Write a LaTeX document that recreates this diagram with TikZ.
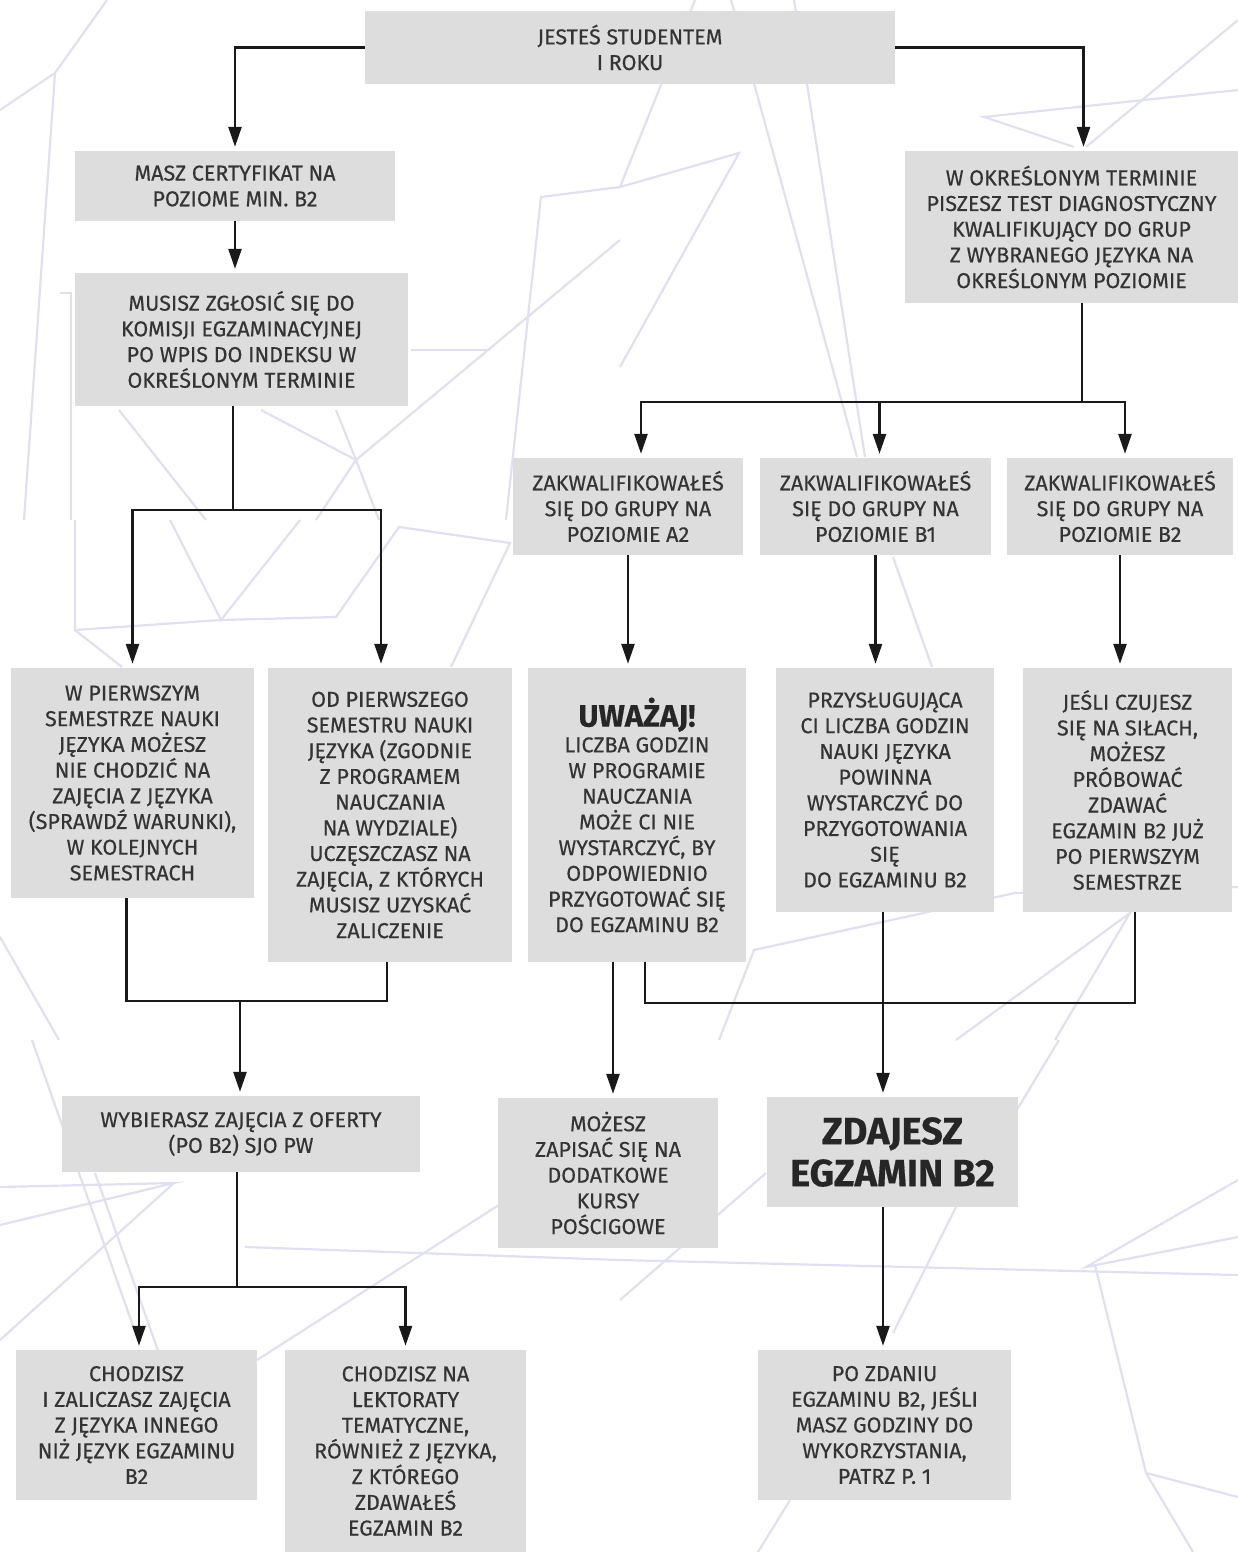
\documentclass[tikz,border=0pt]{standalone}
\usepackage{fontspec}
\setmainfont{Fira Sans}[FakeBold=0.4]
\usetikzlibrary{arrows.meta}
\definecolor{boxgray}{RGB}{221,221,221}
\definecolor{txtgray}{RGB}{52,52,52}
\definecolor{bglav}{RGB}{224,224,240}
\tikzset{
  box/.style={rectangle, fill=boxgray, inner sep=0pt, align=center, text=txtgray,
    font=\fontsize{21.5}{25.7}\selectfont},
  link/.style={line width=2.6pt, draw=black!90},
  arr/.style={link, -{Triangle[length=20pt,width=13pt]}, shorten >=4pt},
  bgline/.style={draw=bglav, line width=2.2pt},
}
\begin{document}
\begin{tikzpicture}[x=1pt,y=-1pt]
  \useasboundingbox (0,0) rectangle (1238,1552);
  % background mesh
  \begin{scope}[bgline]
    \draw (107,0) -- (55,73) -- (0,110);
    \draw (55,73) -- (24,520);
    \draw (60,293) -- (71,293) -- (71,520);
    \draw (119,410) -- (206,520);
    \draw (261,410) -- (356,460) -- (336,410);
    \draw (379,520) -- (356,460) -- (316,520);
    \draw (620,240) -- (356,460);
    \draw (620,187) -- (541,197) -- (506,520);
    \draw (411,350) -- (490,350);
    \draw (695,0) -- (620,187) -- (739,153) -- (620,367);
    \draw (731,0) -- (857,457);
    \draw (794,0) -- (865,457);
    \draw (1238,20) -- (1086,147);
    \draw (1238,90) -- (984,117) -- (1074,147);
    \draw (75,520) -- (75,630) -- (221,620) -- (336,617) -- (399,527) -- (510,543) -- (451,667);
    \draw (170,520) -- (221,620) -- (300,520);
    \draw (75,630) -- (122,667);
    \draw (0,937) -- (59,1040);
    \draw (893,557) -- (932,667);
    \draw (719,1040) -- (754,950) -- (1015,893) -- (1238,887);
    \draw (956,1040) -- (1130,913) -- (1055,1040);
    \draw (0,1225) -- (174,1183) -- (0,1187);
    \draw (0,1340) -- (174,1183);
    \draw (245,1247) -- (620,1260) -- (1238,1275);
    \draw (32,1040) -- (138,1340);
    \draw (95,1173) -- (166,1373);
    \draw (257,1360) -- (502,1203);
    \draw (620,1300) -- (766,1173);
    \draw (1238,1180) -- (1086,1267) -- (1238,1237);
    \draw (1095,1265) -- (1146,1473) -- (1238,1497);
    \draw (1146,1473) -- (1193,1552);
    \draw (1015,1113) -- (1059,1040);
    \draw (956,1207) -- (893,1333);
    \draw (790,1500) -- (758,1552);
  \end{scope}
  % boxes
  \node[box, minimum width=530pt, minimum height=73pt] (start) at (630,47.5) {JESTEŚ STUDENTEM\\I ROKU};
  \node[box, minimum width=320pt, minimum height=70pt] (cert) at (235,186) {MASZ CERTYFIKAT NA\\POZIOME MIN. B2};
  \node[box, minimum width=333pt, minimum height=133pt] (komisja) at (241.5,339.5) {MUSISZ ZGŁOSIĆ SIĘ DO\\KOMISJI EGZAMINACYJNEJ\\PO WPIS DO INDEKSU W\\OKREŚLONYM TERMINIE};
  \node[box, minimum width=333pt, minimum height=152pt] (test) at (1071.5,227) {W OKREŚLONYM TERMINIE\\PISZESZ TEST DIAGNOSTYCZNY\\KWALIFIKUJĄCY DO GRUP\\Z WYBRANEGO JĘZYKA NA\\OKREŚLONYM POZIOMIE};
  \node[box, minimum width=230pt, minimum height=97pt] (a2) at (628,506.5) {ZAKWALIFIKOWAŁEŚ\\SIĘ DO GRUPY NA\\POZIOMIE A2};
  \node[box, minimum width=231pt, minimum height=97pt] (b1) at (875.5,506.5) {ZAKWALIFIKOWAŁEŚ\\SIĘ DO GRUPY NA\\POZIOMIE B1};
  \node[box, minimum width=226pt, minimum height=97pt] (b2) at (1120,506.5) {ZAKWALIFIKOWAŁEŚ\\SIĘ DO GRUPY NA\\POZIOMIE B2};
  \node[box, minimum width=243pt, minimum height=230pt] (pierwszym) at (132.5,783) {W PIERWSZYM\\SEMESTRZE NAUKI\\JĘZYKA MOŻESZ\\NIE CHODZIĆ NA\\ZAJĘCIA Z JĘZYKA\\(SPRAWDŹ WARUNKI),\\W KOLEJNYCH\\SEMESTRACH};
  \node[box, minimum width=244pt, minimum height=294pt] (od) at (390,815) {OD PIERWSZEGO\\SEMESTRU NAUKI\\JĘZYKA (ZGODNIE\\Z PROGRAMEM\\NAUCZANIA\\NA WYDZIALE)\\UCZĘSZCZASZ NA\\ZAJĘCIA, Z KTÓRYCH\\MUSISZ UZYSKAĆ\\ZALICZENIE};
  \node[box, minimum width=218pt, minimum height=294pt] (uwazaj) at (637,815) {{\fontsize{31}{30}\selectfont\bfseries\color{black!85} UWAŻAJ!}\\LICZBA GODZIN\\W PROGRAMIE\\NAUCZANIA\\MOŻE CI NIE\\WYSTARCZYĆ, BY\\ODPOWIEDNIO\\PRZYGOTOWAĆ SIĘ\\DO EGZAMINU B2};
  \node[box, minimum width=218pt, minimum height=244pt] (przysl) at (885,790) {PRZYSŁUGUJĄCA\\CI LICZBA GODZIN\\NAUKI JĘZYKA\\POWINNA\\WYSTARCZYĆ DO\\PRZYGOTOWANIA\\SIĘ\\DO EGZAMINU B2};
  \node[box, minimum width=209pt, minimum height=244pt] (jesli) at (1127.5,790) {JEŚLI CZUJESZ\\SIĘ NA SIŁACH,\\MOŻESZ\\PRÓBOWAĆ\\ZDAWAĆ\\EGZAMIN B2 JUŻ\\PO PIERWSZYM\\SEMESTRZE};
  \node[box, minimum width=358pt, minimum height=76pt] (wybierasz) at (241,1134) {WYBIERASZ ZAJĘCIA Z OFERTY\\(PO B2) SJO PW};
  \node[box, minimum width=220pt, minimum height=150pt] (mozesz) at (608,1173) {MOŻESZ\\ZAPISAĆ SIĘ NA\\DODATKOWE\\KURSY\\POŚCIGOWE};
  \node[box, minimum width=251pt, minimum height=110pt, text=black!85,
    font=\fontsize{38}{42}\selectfont\bfseries] (zdajesz) at (892.5,1152) {ZDAJESZ\\EGZAMIN B2};
  \node[box, minimum width=241pt, minimum height=150pt] (chodzisz) at (136.5,1425) {CHODZISZ\\I ZALICZASZ ZAJĘCIA\\Z JĘZYKA INNEGO\\NIŻ JĘZYK EGZAMINU\\B2};
  \node[box, minimum width=241pt, minimum height=202pt] (lektoraty) at (405.5,1451) {CHODZISZ NA\\LEKTORATY\\TEMATYCZNE,\\RÓWNIEŻ Z JĘZYKA,\\Z KTÓREGO\\ZDAWAŁEŚ\\EGZAMIN B2};
  \node[box, minimum width=253pt, minimum height=150pt] (pozdaniu) at (884.5,1425) {PO ZDANIU\\EGZAMINU B2, JEŚLI\\MASZ GODZINY DO\\WYKORZYSTANIA,\\PATRZ P. 1};
  % junctions
  \coordinate (forkL) at (233,510);
  \coordinate (forkR) at (1082,402);
  \coordinate (mergeL) at (240,1001);
  \coordinate (mergeR) at (883,1003);
  \coordinate (forkB) at (237,1287);
  % connectors
  \draw[arr] (start.west) -| (cert.north);
  \draw[arr] (start.east) -| ([xshift=12pt]test.north);
  \draw[arr] (cert.south) -- (cert.south |- komisja.north);
  \draw[link] (komisja.south -| forkL) -- (forkL);
  \draw[arr] (forkL) -| (pierwszym.north);
  \draw[arr] (forkL) -| ([xshift=-9pt]od.north);
  \draw[link] (test.south -| forkR) -- (forkR);
  \draw[arr] (forkR) -| ([xshift=13pt]a2.north);
  \draw[arr] (forkR) -| ([xshift=4pt]b1.north);
  \draw[arr] (forkR) -| ([xshift=5pt]b2.north);
  \draw[arr] (a2.south) -- (a2.south |- uwazaj.north);
  \draw[arr] (b1.south) -- (b1.south |- przysl.north);
  \draw[arr] (b2.south) -- (b2.south |- jesli.north);
  \draw[link] ([xshift=-6pt]pierwszym.south) |- (mergeL) -| ([xshift=-3pt]od.south);
  \draw[arr] (mergeL) -- (mergeL |- wybierasz.north);
  \draw[link] ([xshift=8pt]uwazaj.south) |- (mergeR) -| ([xshift=7.5pt]jesli.south);
  \draw[arr] (przysl.south -| mergeR) -- (mergeR |- zdajesz.north);
  \draw[arr] ([xshift=-24pt]uwazaj.south) -- ([xshift=-24pt]uwazaj.south |- mozesz.north);
  \draw[link] (wybierasz.south -| forkB) -- (forkB);
  \draw[arr] (forkB) -| ([xshift=2.5pt]chodzisz.north);
  \draw[arr] (forkB) -| (lektoraty.north);
  \draw[arr] (zdajesz.south -| mergeR) -- (mergeR |- pozdaniu.north);
\end{tikzpicture}
\end{document}
